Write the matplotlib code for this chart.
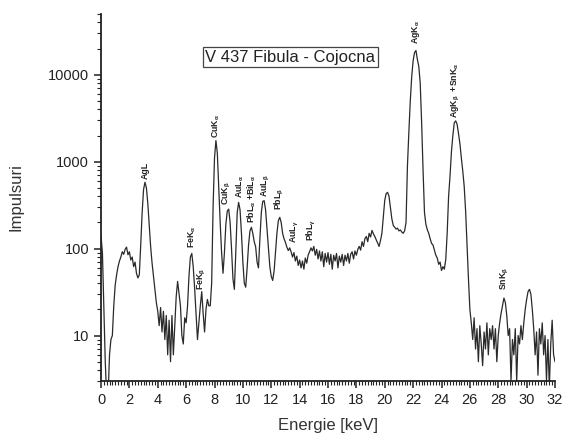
import numpy as np
import matplotlib
matplotlib.use("Agg")
import matplotlib.pyplot as plt
from matplotlib.ticker import MultipleLocator, LogLocator, FixedLocator, NullFormatter

plt.rcParams['font.family'] = ['Liberation Sans', 'DejaVu Sans']
plt.rcParams['mathtext.fontset'] = 'custom'
plt.rcParams['mathtext.rm'] = 'Liberation Sans:bold'
plt.rcParams['mathtext.it'] = 'Liberation Sans:bold'

# Channel energies (keV), 0.1 keV per channel
energy = np.round(np.arange(321) * 0.1, 1)

# Counts per channel, listed one keV per row
counts = [
    140, 90, 20, 5, 2, 2, 6, 9, 10, 22,
    38, 50, 62, 72, 80, 92, 86, 98, 104, 85,
    92, 74, 80, 62, 70, 52, 46, 50, 110, 260,
    480, 580, 500, 330, 190, 105, 68, 48, 34, 24,
    19, 13, 21, 11, 19, 9, 17, 6, 15, 5,
    17, 6, 13, 28, 42, 30, 22, 10, 8, 16,
    14, 22, 48, 80, 88, 62, 35, 18, 9, 14,
    22, 32, 18, 11, 20, 26, 22, 22, 40, 300,
    1100, 1750, 1250, 500, 200, 90, 52, 90, 190, 270,
    285, 200, 100, 45, 34, 90, 260, 340, 280, 150,
    70, 40, 36, 60, 110, 160, 176, 150, 120, 105,
    70, 60, 130, 260, 350, 356, 280, 170, 100, 62,
    48, 43, 55, 90, 150, 210, 229, 200, 150, 130,
    118, 104, 95, 102, 92, 80, 90, 72, 82, 64,
    74, 60, 72, 58, 78, 68, 84, 92, 102, 94,
    106, 84, 98, 76, 94, 72, 92, 62, 88, 70,
    90, 66, 86, 58, 84, 72, 88, 60, 82, 70,
    86, 64, 84, 72, 88, 68, 86, 92, 76, 94,
    84, 98, 106, 96, 120, 106, 130, 138, 120, 150,
    136, 162, 148, 138, 126, 116, 106, 124, 150, 230,
    360, 430, 444, 400, 300, 220, 185, 176, 168, 172,
    160, 164, 155, 150, 160, 200, 900, 2200, 5000, 9500,
    14500, 18000, 19000, 15000, 12500, 8000, 2800, 800, 260, 190,
    165, 150, 130, 115, 110, 96, 84, 78, 66, 70,
    56, 62, 58, 75, 150, 400, 680, 1300, 2000, 2800,
    2950, 2700, 2100, 1600, 1100, 780, 520, 270, 110, 45,
    20, 14, 9, 16, 7, 12, 5, 13, 8, 4.5,
    11, 7, 14, 6, 12, 9, 13, 7, 12, 5,
    10, 14, 18, 22, 27, 24, 17, 10, 12, 3,
    9, 6, 12, 3, 10, 8, 13, 9, 14, 20,
    26, 32, 34, 30, 20, 12, 6, 11, 3.5, 12,
    8, 14, 6, 10, 3, 9, 2.5, 8, 15, 6,
    5,
]

# Peak labels and the energies they mark
peak_labels = [
    "AgL", "FeK$_\\alpha$", "FeK$_\\beta$", "CuK$_\\alpha$", "CuK$_\\beta$",
    "AuL$_\\alpha$", "PbL$_\\alpha$ +BiL$_\\alpha$", "AuL$_\\beta$", "PbL$_\\beta$",
    "AuL$_\\gamma$", "PbL$_\\gamma$", "AgK$_\\alpha$", "AgK$_\\beta$  +SnK$_\\alpha$",
    "SnK$_\\beta$",
]
peak_energy = [3.1, 6.4, 7.15, 8.1, 8.9, 9.8, 10.65, 11.6, 12.6,
               13.65, 14.85, 22.2, 25.05, 28.45]

counts_arr = np.asarray(counts, dtype=float)

fig = plt.figure(figsize=(5.64, 4.36), dpi=100)
ax = fig.add_axes([101 / 564, 55 / 436, 454 / 564, 367 / 436])

ax.plot(energy, counts_arr, color="#2a2a2a", lw=0.9)

ax.set_yscale("log")
ax.set_xlim(0, 32)
ax.set_ylim(3, 50000)

ax.xaxis.set_major_locator(MultipleLocator(2))
ax.xaxis.set_minor_locator(MultipleLocator(0.2))
ax.yaxis.set_major_locator(FixedLocator([10, 100, 1000, 10000]))
ax.yaxis.set_minor_locator(LogLocator(base=10, subs=np.arange(2, 10)))
ax.yaxis.set_minor_formatter(NullFormatter())
ax.set_yticklabels(["10", "100", "1000", "10000"])

for side in ("top", "right"):
    ax.spines[side].set_visible(False)
for side in ("left", "bottom"):
    ax.spines[side].set_linewidth(1.3)
    ax.spines[side].set_color("#222222")

ax.tick_params(which="major", direction="out", length=5, width=1.1,
               labelsize=10.5, colors="#222222")
ax.tick_params(which="minor", direction="out", length=3, width=0.8,
               colors="#222222")

ax.set_xlabel("Energie [keV]", fontsize=12, color="#333333", labelpad=8)
ax.set_ylabel("Impulsuri", fontsize=12, color="#333333", labelpad=18)

# Label each peak just above its highest channel
gaps = [2, 4, 1, 2, 3, 3, 3, 3, 5, 7, 4, 5, 2, 6]
for lab, e, g in zip(peak_labels, peak_energy, gaps):
    win = (energy >= e - 0.15) & (energy <= e + 0.15)
    ytop = counts_arr[win].max()
    ax.annotate(lab, xy=(e, ytop), xytext=(0, g), textcoords="offset points",
                rotation=90, ha="center", va="bottom", fontsize=6.3,
                fontweight="bold", color="#222222")

fig.text(290 / 564, 1 - 57.5 / 436, "V 437 Fibula - Cojocna", fontsize=12,
         ha="center", va="center", color="#222222",
         bbox=dict(boxstyle="square,pad=0.15", fc="white", ec="#444444", lw=0.9))

fig.savefig("out.png", dpi=100)
